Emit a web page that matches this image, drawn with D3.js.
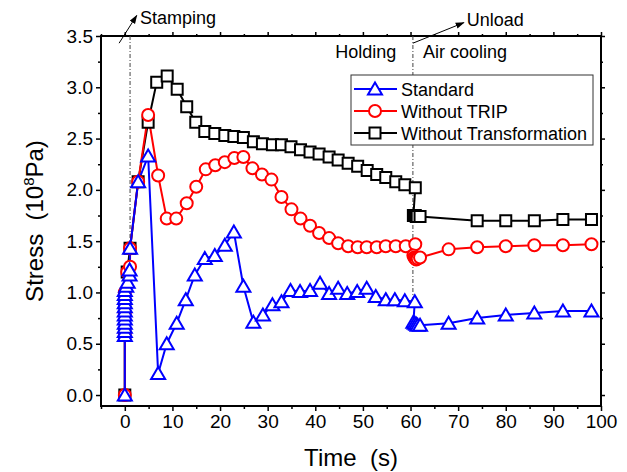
<!DOCTYPE html>
<html>
<head>
<meta charset="utf-8">
<script src="https://cdn.jsdelivr.net/npm/d3@7"></script>
<style>
  body { margin: 0; background: #fff; }
  svg { display: block; font-family: 'Liberation Sans', Arial, sans-serif; }
</style>
</head>
<body>
<svg></svg>
<script>
// data (time in s, stress in 10^8 Pa)
const standardTime = [0, 0, 0, 0, 0, 0, 0, 0, 0, 0, 0, 0, 0, 0.3, 0.6, 1.0, 1.0, 1.1, 2.8, 4.9, 7, 8.8, 10.9, 12.8, 14.7, 16.8, 18.9, 21, 22.9, 24.9, 27, 29, 31, 32.9, 34.8, 36.8, 38.9, 41, 42.9, 44.8, 46.7, 48.8, 50.8, 52.7, 54.8, 56.7, 58.8, 60.9, 60.6, 60.9, 61.2, 61.5, 62, 68, 74, 80, 86, 92, 98];
const standardStress = [0, 0.58, 0.62, 0.66, 0.70, 0.74, 0.78, 0.82, 0.86, 0.90, 0.94, 0.98, 1.02, 1.06, 1.10, 1.17, 1.22, 1.43, 2.08, 2.33, 0.21, 0.50, 0.70, 0.93, 1.17, 1.33, 1.36, 1.46, 1.59, 1.06, 0.71, 0.78, 0.88, 0.91, 1.02, 1.01, 1.02, 1.09, 0.99, 1.04, 0.99, 1.01, 1.04, 0.96, 0.93, 0.93, 0.92, 0.91, 0.71, 0.70, 0.69, 0.68, 0.68, 0.70, 0.75, 0.78, 0.80, 0.82, 0.82];

const tripTime = [0, 0, 0, 0, 0.5, 1.1, 1.1, 2.8, 4.9, 7, 8.8, 10.8, 13, 15, 17, 19, 21, 23, 24.9, 26.8, 28.8, 30.8, 32.9, 35, 36.9, 38.9, 40.8, 42.9, 44.8, 46.9, 48.9, 50.8, 52.9, 54.8, 56.9, 59, 61, 60.6, 60.8, 61, 61.2, 61.5, 62, 68, 74, 80, 86, 92, 98];
const tripStress = [0, 0.6, 0.8, 1.0, 1.2, 1.25, 1.43, 2.08, 2.73, 2.14, 1.72, 1.72, 1.87, 2.03, 2.2, 2.24, 2.27, 2.31, 2.32, 2.21, 2.15, 2.10, 1.93, 1.81, 1.72, 1.65, 1.58, 1.53, 1.48, 1.45, 1.44, 1.44, 1.44, 1.45, 1.45, 1.45, 1.47, 1.36, 1.34, 1.33, 1.32, 1.33, 1.34, 1.42, 1.44, 1.45, 1.46, 1.46, 1.47];

const transTime = [0, 0, 0, 0.5, 1.1, 2.8, 4.9, 6.7, 8.9, 11, 13, 14.9, 16.8, 18.9, 21, 22.9, 24.9, 27, 28.9, 31, 32.9, 34.9, 36.9, 38.9, 40.8, 42.9, 44.8, 46.9, 48.9, 50.9, 52.9, 54.8, 56.9, 58.8, 61, 60.6, 60.8, 61, 61.2, 61.4, 62, 74, 80, 86, 92, 98];
const transStress = [0, 0.6, 0.9, 1.2, 1.43, 2.08, 2.66, 3.05, 3.11, 2.98, 2.81, 2.66, 2.57, 2.55, 2.53, 2.52, 2.51, 2.47, 2.45, 2.44, 2.44, 2.42, 2.39, 2.37, 2.35, 2.32, 2.29, 2.26, 2.23, 2.19, 2.15, 2.12, 2.08, 2.05, 2.02, 1.75, 1.75, 1.75, 1.74, 1.74, 1.74, 1.70, 1.70, 1.70, 1.71, 1.71];

const seriesNames = ['Standard', 'Without TRIP', 'Without Transformation'];
const xTicks = [0, 10, 20, 30, 40, 50, 60, 70, 80, 90, 100];
const yTicks = [0.0, 0.5, 1.0, 1.5, 2.0, 2.5, 3.0, 3.5];

const width = 627;
const height = 472;
const plotLeft = 101;
const plotRight = 601;
const plotTop = 36;
const plotBottom = 406;

const svg = d3.select('svg').attr('width', width).attr('height', height);

const xScale = d3.scaleLinear().domain([-5, 100]).range([plotLeft, plotRight]);
const yScale = d3.scaleLinear().domain([-0.107, 3.5]).range([plotBottom, plotTop]);

const zip = (ts, vs) => ts.map((t, i) => ({ t: t, v: vs[i] }));

const series = [
  { name: seriesNames[2], color: '#000000', shape: 'square', data: zip(transTime, transStress) },
  { name: seriesNames[1], color: '#ff0000', shape: 'circle', data: zip(tripTime, tripStress) },
  { name: seriesNames[0], color: '#0000ff', shape: 'triangle', data: zip(standardTime, standardStress) },
];

const symbolPath = (shape) => {
  if (shape === 'triangle') return 'M0,-6.5L7,5.5L-7,5.5Z';
  if (shape === 'square') return 'M-5.5,-5.5H5.5V5.5H-5.5Z';
  return d3.arc()({ innerRadius: 0, outerRadius: 6, startAngle: 0, endAngle: 2 * Math.PI });
};

// axes
const xAxis = d3.axisBottom(xScale).tickValues(xTicks).tickSize(5).tickPadding(4).tickFormat(d3.format('d'));
const xMinor = d3.axisBottom(xScale).tickValues(d3.range(-5, 100, 10)).tickSize(3).tickFormat('');
const yAxis = d3.axisLeft(yScale).tickValues(yTicks).tickSize(5).tickPadding(3).tickFormat(d3.format('.1f'));
const yMinor = d3.axisLeft(yScale).tickValues(d3.range(0.25, 3.5, 0.5)).tickSize(3).tickFormat('');
const xTop = d3.axisTop(xScale).tickValues(xTicks).tickSize(4).tickFormat('');
const xTopMinor = d3.axisTop(xScale).tickValues(d3.range(-5, 100, 10)).tickSize(2).tickFormat('');
const yRight = d3.axisRight(yScale).tickValues(yTicks).tickSize(4).tickFormat('');
const yRightMinor = d3.axisRight(yScale).tickValues(d3.range(0.25, 3.5, 0.5)).tickSize(2).tickFormat('');

const addAxis = (axis, tx, ty) => {
  const g = svg.append('g').attr('transform', 'translate(' + tx + ',' + ty + ')').call(axis);
  g.select('.domain').remove();
  g.selectAll('line').attr('stroke', '#000').attr('stroke-width', 1.5);
  g.selectAll('text').attr('fill', '#000').style('font-size', '19px');
  return g;
};

addAxis(xAxis, 0, plotBottom);
addAxis(xMinor, 0, plotBottom);
addAxis(yAxis, plotLeft, 0);
addAxis(yMinor, plotLeft, 0);
addAxis(xTop, 0, plotTop);
addAxis(xTopMinor, 0, plotTop);
addAxis(yRight, plotRight, 0);
addAxis(yRightMinor, plotRight, 0);

svg.append('rect')
  .attr('x', plotLeft).attr('y', plotTop)
  .attr('width', plotRight - plotLeft).attr('height', plotBottom - plotTop)
  .attr('fill', 'none').attr('stroke', '#000').attr('stroke-width', 2);

// axis titles
svg.append('text')
  .attr('x', (plotLeft + plotRight) / 2).attr('y', 466)
  .attr('text-anchor', 'middle').style('font-size', '24px')
  .text('Time\u00a0\u00a0(s)');

const yTitle = svg.append('text')
  .attr('transform', 'translate(43,' + (plotTop + plotBottom) / 2 + ') rotate(-90)')
  .attr('text-anchor', 'middle').style('font-size', '24px');
yTitle.append('tspan').text('Stress\u00a0\u00a0(10');
yTitle.append('tspan').attr('dy', -9).style('font-size', '15px').text('8');
yTitle.append('tspan').attr('dy', 9).text('Pa)');

// stage markers
const dashLine = (t, v0, v1) => {
  svg.append('line')
    .attr('x1', xScale(t)).attr('x2', xScale(t))
    .attr('y1', yScale(v0)).attr('y2', yScale(v1))
    .attr('stroke', '#444').attr('stroke-width', 1)
    .attr('stroke-dasharray', '4,2,1,2');
};
dashLine(1.1, 3.5, 1.45);
dashLine(60.5, 3.5, 0.93);

svg.append('defs').append('marker')
  .attr('id', 'arrow').attr('viewBox', '0 0 10 10')
  .attr('refX', 9).attr('refY', 5)
  .attr('markerWidth', 9).attr('markerHeight', 9)
  .attr('orient', 'auto')
  .append('path').attr('d', 'M0,1.5L10,5L0,8.5Z').attr('fill', '#000');

const arrow = (t0, v0, t1, v1) => {
  svg.append('line')
    .attr('x1', xScale(t0)).attr('y1', yScale(v0))
    .attr('x2', xScale(t1)).attr('y2', yScale(v1))
    .attr('stroke', '#000').attr('stroke-width', 1)
    .attr('marker-end', 'url(#arrow)');
};
arrow(-1.2, 3.43, 2.5, 3.70);
arrow(60.5, 3.43, 71.2, 3.63);

const note = (str, t, y) => {
  svg.append('text').attr('x', xScale(t)).attr('y', y).style('font-size', '18px').text(str);
};
note('Stamping', 3.2, 24);
note('Unload', 71.8, 26);
note('Holding', 44.2, 58);
note('Air cooling', 62.6, 58);

// series
const line = d3.line().x((d) => xScale(d.t)).y((d) => yScale(d.v));

series.forEach((s) => {
  svg.append('path')
    .datum(s.data)
    .attr('d', line)
    .attr('fill', 'none')
    .attr('stroke', s.color)
    .attr('stroke-width', 2);
});

series.forEach((s) => {
  svg.append('g')
    .selectAll('path')
    .data(s.data)
    .enter()
    .append('path')
    .attr('d', symbolPath(s.shape))
    .attr('transform', (d) => 'translate(' + xScale(d.t) + ',' + yScale(d.v) + ')')
    .attr('fill', '#fff')
    .attr('stroke', s.color)
    .attr('stroke-width', 2);
});

// legend
const legend = svg.append('g').attr('transform', 'translate(351,75)');
legend.append('rect')
  .attr('width', 242).attr('height', 70)
  .attr('fill', '#fff').attr('stroke', '#333').attr('stroke-width', 1);

const legendItems = [series[2], series[1], series[0]];
legendItems.forEach((s, i) => {
  const g = legend.append('g').attr('transform', 'translate(0,' + (14 + i * 22) + ')');
  g.append('line').attr('x1', 3).attr('x2', 46).attr('stroke', s.color).attr('stroke-width', 2);
  g.append('path').attr('d', symbolPath(s.shape)).attr('transform', 'translate(24,0)')
    .attr('fill', '#fff').attr('stroke', s.color).attr('stroke-width', 2);
  g.append('text').attr('x', 50).attr('y', 6.5).style('font-size', '18px').text(s.name);
});
</script>
</body>
</html>
